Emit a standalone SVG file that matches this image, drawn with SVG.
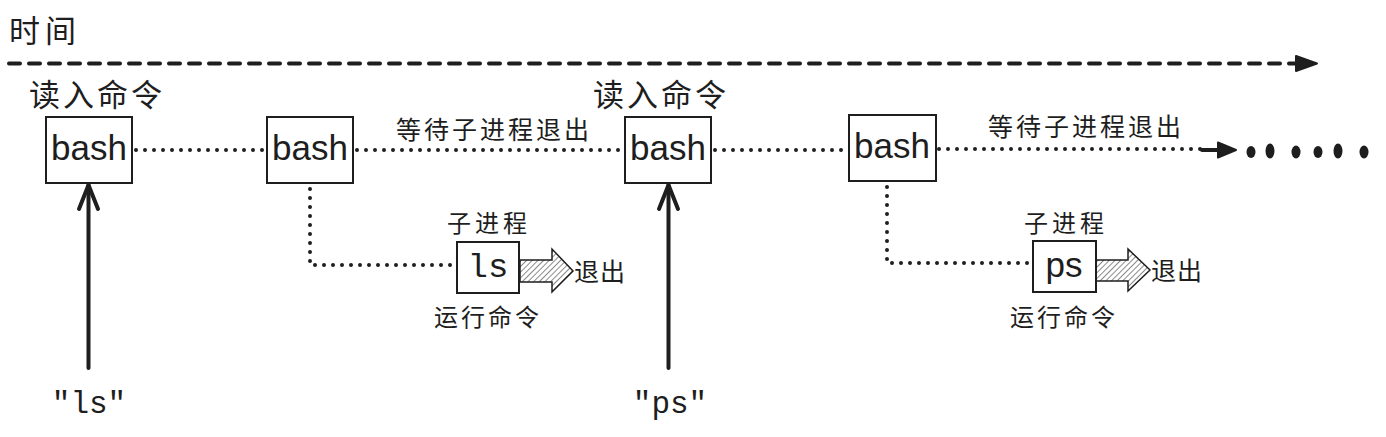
<svg xmlns="http://www.w3.org/2000/svg" width="1386" height="437" viewBox="0 0 1386 437">
<style>
.bg{fill:#ffffff}
.box{fill:#ffffff;stroke:#1e1e1e;stroke-width:2}
.dot{fill:none;stroke:#1e1e1e;stroke-width:4;stroke-linecap:round;stroke-dasharray:0 9}
.dash{fill:none;stroke:#1e1e1e;stroke-width:4;stroke-linecap:round;stroke-dasharray:11 9}
.solid{fill:none;stroke:#1e1e1e;stroke-width:4;stroke-linecap:round;stroke-linejoin:round}
.head{fill:#1e1e1e;stroke:#1e1e1e;stroke-width:2;stroke-linejoin:round}
.fat{fill:url(#hatch);stroke:#1e1e1e;stroke-width:1.5;stroke-linejoin:miter}
.cjk{font-family:"Noto Sans CJK SC",sans-serif;fill:#1e1e1e}
.sans{font-family:"Liberation Sans",Arial,sans-serif;fill:#1e1e1e}
.mono{font-family:"Liberation Mono","Courier New",monospace;fill:#1e1e1e}
.blob{fill:#1e1e1e}
</style>
<defs>
<pattern id="hatch" width="4" height="4" patternUnits="userSpaceOnUse" patternTransform="rotate(45)">
<rect width="4" height="4" fill="#ffffff"/>
<rect x="0" y="0" width="1" height="4" fill="#8a8a8a"/>
</pattern>
</defs>
<rect class="bg" x="0" y="0" width="1386" height="437"/>

<g id="time-label">
<text class="cjk" x="9" y="42" font-size="31" letter-spacing="5">时间</text>
</g>

<g id="connectors">
<!-- timeline -->
<path class="dash" d="M9 63.5 H1296"/>
<path class="head" d="M1296 56 L1317 63.5 L1296 71 Z"/>
<!-- main dotted chain -->
<path class="dot" d="M136 150 H264"/>
<path class="dot" d="M357 150 H622"/>
<path class="dot" d="M715 150 H845"/>
<path class="dot" d="M939 149 H1202"/>
<path class="solid" d="M1202 150 H1222"/>
<path class="head" d="M1218 142.5 L1236 150 L1218 157.5 Z"/>
<!-- branches to child processes -->
<path class="dot" d="M310 189 V265 H452"/>
<path class="dot" d="M887 187 V263 H1028"/>
<!-- input arrows -->
<path class="solid" d="M88.5 368 V185"/>
<path class="solid" d="M79 209 L88.5 185 L98 209"/>
<path class="solid" d="M668.5 368 V185"/>
<path class="solid" d="M659 209 L668.5 185 L678 209"/>
<!-- exit arrows -->
<path class="fat" d="M520 260 H552 V249 L573 271 L552 292 V282 H520 Z"/>
<path class="fat" d="M1096 260 H1128 V249 L1150 270 L1128 291 V281 H1096 Z"/>
<!-- trailing dots -->
<ellipse class="blob" cx="1251" cy="152" rx="4.5" ry="6"/>
<ellipse class="blob" cx="1270" cy="151" rx="4.5" ry="7.5"/>
<ellipse class="blob" cx="1296" cy="152" rx="4.5" ry="6.5"/>
<ellipse class="blob" cx="1318" cy="152" rx="4.5" ry="6"/>
<ellipse class="blob" cx="1338" cy="151" rx="4.5" ry="7.5"/>
<ellipse class="blob" cx="1364" cy="152" rx="4.5" ry="6.5"/>
</g>

<g id="bash1">
<text class="cjk" x="29" y="106" font-size="31" letter-spacing="3">读入命令</text>
<rect class="box" x="46" y="117" width="86" height="66"/>
<text class="sans" x="89" y="160" font-size="35" text-anchor="middle">bash</text>
</g>

<g id="bash2">
<rect class="box" x="267" y="117" width="86" height="66"/>
<text class="sans" x="310" y="160" font-size="35" text-anchor="middle">bash</text>
<text class="cjk" x="396" y="139" font-size="25" letter-spacing="3">等待子进程退出</text>
</g>

<g id="bash3">
<text class="cjk" x="593" y="106" font-size="31" letter-spacing="3">读入命令</text>
<rect class="box" x="625" y="117" width="86" height="66"/>
<text class="sans" x="668" y="160" font-size="35" text-anchor="middle">bash</text>
</g>

<g id="bash4">
<rect class="box" x="849" y="115" width="87" height="66"/>
<text class="sans" x="892" y="158" font-size="35" text-anchor="middle">bash</text>
<text class="cjk" x="988" y="136" font-size="25" letter-spacing="3">等待子进程退出</text>
</g>

<g id="ls-proc">
<text class="cjk" x="447" y="232" font-size="24" letter-spacing="4">子进程</text>
<rect class="box" x="457" y="242" width="62" height="51"/>
<text class="mono" x="488" y="277" font-size="34" text-anchor="middle">ls</text>
<text class="cjk" x="434" y="326" font-size="24" letter-spacing="3">运行命令</text>
<text class="cjk" x="574" y="281" font-size="25" letter-spacing="1">退出</text>
</g>

<g id="ps-proc">
<text class="cjk" x="1024" y="232" font-size="24" letter-spacing="4">子进程</text>
<rect class="box" x="1033" y="241" width="63" height="51"/>
<text class="sans" x="1064" y="277" font-size="35" text-anchor="middle">ps</text>
<text class="cjk" x="1010" y="326" font-size="24" letter-spacing="3">运行命令</text>
<text class="cjk" x="1151" y="280" font-size="25" letter-spacing="1">退出</text>
</g>

<g id="input-ls">
<text class="mono" x="89" y="413" font-size="31" text-anchor="middle">"ls"</text>
</g>

<g id="input-ps">
<text class="mono" x="670" y="413" font-size="31" text-anchor="middle">"ps"</text>
</g>
</svg>
